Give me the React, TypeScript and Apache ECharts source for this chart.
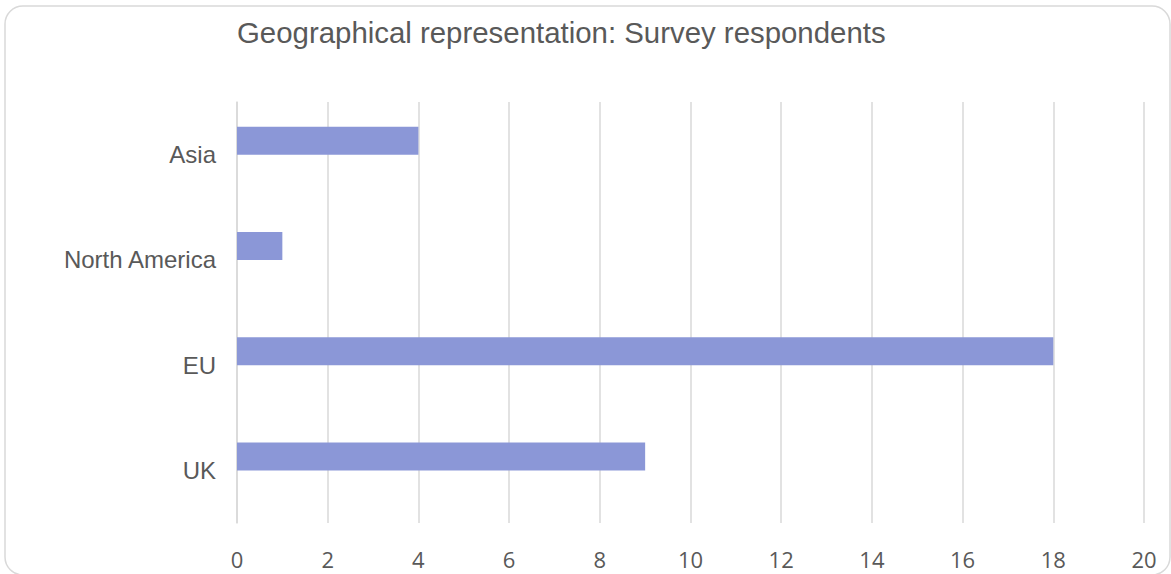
import React, { useEffect, useRef } from "react";
import * as echarts from "echarts";

const titleText = "Geographical representation: Survey respondents";
const categories = ["UK", "EU", "North America", "Asia"];
const respondents = [9, 18, 1, 4];
const emptySeries = [null, null, null, null];

export default function App() {
  const ref = useRef<HTMLDivElement>(null);
  useEffect(() => {
    if (!ref.current) return;
    const chart = echarts.init(ref.current, null, { renderer: "svg" });
    chart.setOption({
      animation: false,
      backgroundColor: "#ffffff",
      title: {
        text: titleText,
        left: 232,
        top: 13,
        textStyle: {
          fontFamily: "Liberation Sans, Arial, sans-serif",
          fontSize: 29.4,
          fontWeight: "normal",
          color: "#595959",
        },
      },
      graphic: [
        {
          type: "rect",
          shape: { x: 5, y: 6, width: 1165, height: 569, r: 18 },
          style: { fill: "none", stroke: "#d9d9d9", lineWidth: 1.5 },
          silent: true,
          z: -1,
        },
      ],
      grid: { left: 237, right: 27, top: 102, bottom: 51, containLabel: false },
      xAxis: {
        type: "value",
        min: 0,
        max: 20,
        interval: 2,
        axisLine: { show: false },
        axisTick: { show: false },
        splitLine: { show: true, lineStyle: { color: "#d9d9d9", width: 1.5 } },
        axisLabel: {
          fontFamily: "Open Sans, sans-serif",
          fontSize: 22,
          color: "#595959",
          margin: 25,
        },
      },
      yAxis: {
        type: "category",
        data: categories,
        axisLine: { show: true, lineStyle: { color: "#d9d9d9", width: 1.5 } },
        axisTick: { show: false },
        axisLabel: {
          fontFamily: "Liberation Sans, Arial, sans-serif",
          fontSize: 24,
          color: "#595959",
          margin: 21,
        },
      },
      series: [
        {
          type: "bar",
          data: respondents,
          barWidth: 28,
          barGap: "0%",
          itemStyle: { color: "#8b97d7" },
        },
        {
          type: "bar",
          data: emptySeries,
          barWidth: 28,
          barGap: "0%",
        },
      ],
    });
    return () => chart.dispose();
  }, []);
  return (
    <div
      ref={ref}
      style={{ position: "fixed", left: 0, top: 0, width: 1171, height: 574 }}
    />
  );
}
